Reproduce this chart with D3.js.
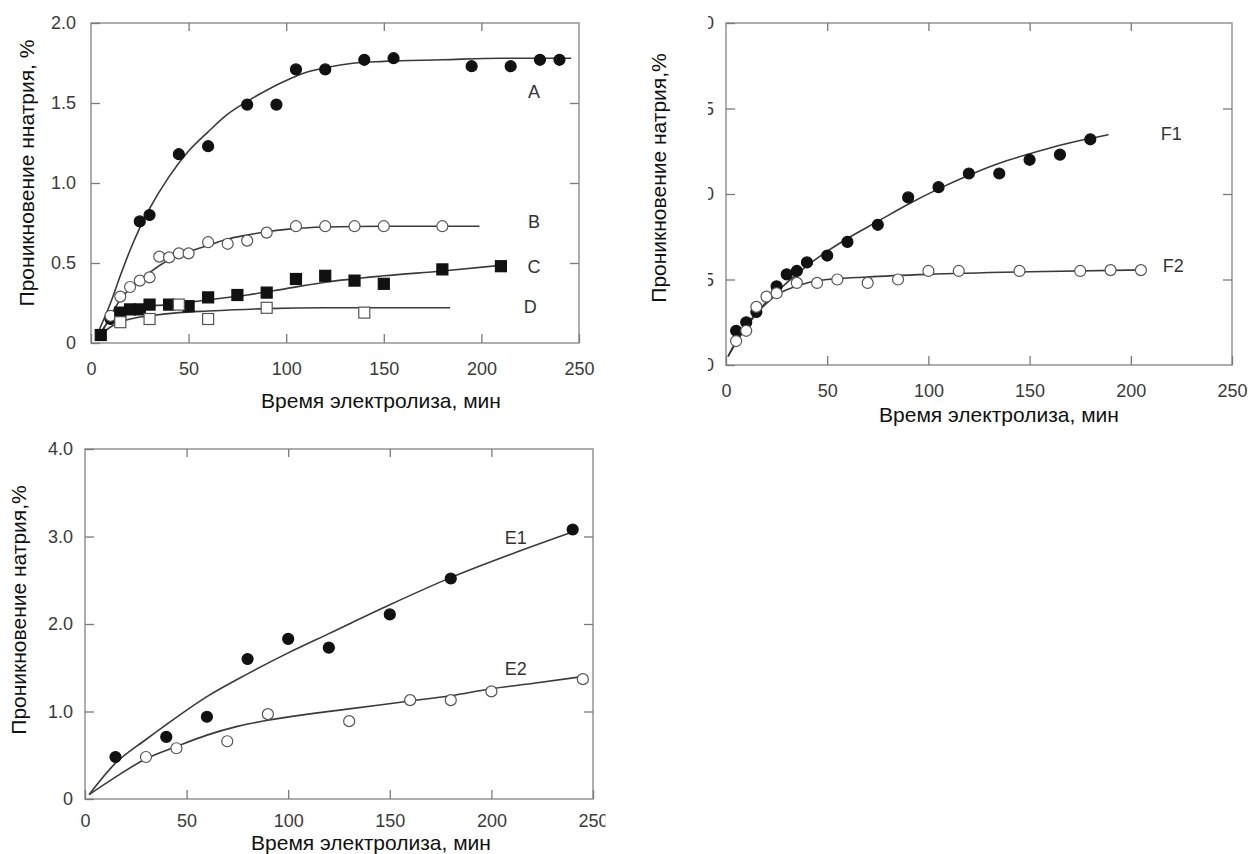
<!DOCTYPE html>
<html><head><meta charset="utf-8">
<script src="https://cdn.jsdelivr.net/npm/d3@7"></script>
<style>
html,body{margin:0;padding:0;background:#fff;}
svg{display:block;font-family:"Liberation Sans",Arial,sans-serif;}
</style></head>
<body><svg id="c" width="1258" height="854"></svg>
<script>
// ---------- data (time, min / sodium penetration, %) ----------
const xTicks = [0, 50, 100, 150, 200, 250];
const yTicks12 = [0, 0.5, 1.0, 1.5, 2.0];
const yTicksE = [0, 1, 2, 3, 4];

// Panel 1
const A_t = [10, 25, 30, 45, 60, 80, 95, 105, 120, 140, 155, 195, 215, 230, 240];
const A_v = [0.15, 0.76, 0.80, 1.18, 1.23, 1.49, 1.49, 1.71, 1.71, 1.77, 1.78, 1.73, 1.73, 1.77, 1.77];
const A_fit_t = [3, 10, 15, 20, 25, 30, 40, 50, 60, 70, 80, 90, 100, 110, 120, 135, 150, 180, 210, 246];
const A_fit_v = [0.05, 0.25, 0.42, 0.58, 0.72, 0.84, 1.04, 1.20, 1.32, 1.43, 1.51, 1.58, 1.64, 1.69, 1.72, 1.75, 1.76, 1.77, 1.78, 1.78];

const B_t = [10, 15, 20, 25, 30, 35, 40, 45, 50, 60, 70, 80, 90, 105, 120, 135, 150, 180];
const B_v = [0.17, 0.29, 0.35, 0.39, 0.41, 0.54, 0.535, 0.56, 0.56, 0.63, 0.62, 0.64, 0.69, 0.73, 0.73, 0.73, 0.73, 0.73];
const B_fit_t = [5, 10, 15, 20, 30, 40, 50, 60, 70, 80, 90, 100, 120, 150, 199];
const B_fit_v = [0.05, 0.17, 0.27, 0.34, 0.44, 0.52, 0.57, 0.61, 0.65, 0.675, 0.695, 0.71, 0.725, 0.73, 0.73];

const C_t = [5, 15, 20, 25, 30, 40, 50, 60, 75, 90, 105, 120, 135, 150, 180, 210];
const C_v = [0.05, 0.19, 0.21, 0.21, 0.24, 0.24, 0.23, 0.285, 0.30, 0.315, 0.40, 0.42, 0.39, 0.37, 0.46, 0.48];
const C_fit_t = [3, 10, 15, 25, 40, 60, 80, 100, 120, 150, 180, 210];
const C_fit_v = [0.03, 0.15, 0.20, 0.225, 0.24, 0.27, 0.30, 0.34, 0.38, 0.42, 0.45, 0.485];

const D_t = [15, 30, 45, 60, 90, 140];
const D_v = [0.13, 0.15, 0.24, 0.15, 0.22, 0.19];
const D_fit_t = [5, 10, 15, 20, 30, 45, 60, 90, 120, 184];
const D_fit_v = [0.05, 0.10, 0.13, 0.15, 0.17, 0.19, 0.20, 0.215, 0.22, 0.22];

// Panel 2
const F1_t = [5, 10, 15, 25, 30, 35, 40, 50, 60, 75, 90, 105, 120, 135, 150, 165, 180];
const F1_v = [0.20, 0.25, 0.31, 0.46, 0.53, 0.55, 0.60, 0.64, 0.72, 0.82, 0.98, 1.04, 1.12, 1.12, 1.20, 1.23, 1.32];
const F1_fit_t = [1, 5, 10, 20, 30, 40, 50, 60, 75, 90, 105, 120, 135, 150, 165, 180, 189];
const F1_fit_v = [0.05, 0.14, 0.23, 0.37, 0.48, 0.58, 0.665, 0.74, 0.84, 0.94, 1.03, 1.11, 1.18, 1.235, 1.285, 1.325, 1.347];

const F2_t = [5, 10, 15, 20, 25, 35, 45, 55, 70, 85, 100, 115, 145, 175, 190, 205];
const F2_v = [0.14, 0.20, 0.34, 0.40, 0.42, 0.48, 0.48, 0.50, 0.48, 0.50, 0.55, 0.55, 0.55, 0.55, 0.555, 0.555];
const F2_fit_t = [1, 5, 10, 15, 20, 25, 30, 40, 50, 70, 100, 150, 206];
const F2_fit_v = [0.05, 0.13, 0.22, 0.30, 0.36, 0.41, 0.44, 0.48, 0.50, 0.515, 0.53, 0.545, 0.556];

// Panel 3
const E1_t = [15, 40, 60, 80, 100, 120, 150, 180, 240];
const E1_v = [0.48, 0.71, 0.94, 1.60, 1.83, 1.73, 2.11, 2.52, 3.08];
const E1_fit_t = [2, 15, 30, 40, 60, 80, 100, 120, 150, 180, 210, 241];
const E1_fit_v = [0.05, 0.41, 0.68, 0.85, 1.17, 1.43, 1.67, 1.89, 2.22, 2.53, 2.80, 3.06];

const E2_t = [30, 45, 70, 90, 130, 160, 180, 200, 245];
const E2_v = [0.48, 0.58, 0.66, 0.97, 0.89, 1.13, 1.13, 1.23, 1.37];
const E2_fit_t = [2, 15, 30, 45, 60, 75, 90, 110, 130, 160, 180, 200, 220, 245];
const E2_fit_v = [0.05, 0.25, 0.46, 0.60, 0.73, 0.83, 0.90, 0.97, 1.03, 1.12, 1.18, 1.26, 1.32, 1.40];

const xTitle = "Время электролиза, мин";

// ---------- drawing ----------
const svg = d3.select("#c");
const zip = (t, v) => t.map((d, i) => [d, v[i]]);

const panels = [
  { box: [91, 579, 23, 343], ymax: 2, yTicks: yTicks12, ylabPad: 15, xlabPad: 19,
    yTitle: "Проникновение ннатрия, %", yTitlePos: [27, 173], xTitlePos: [381, 401],
    clipY: null, clipXRight: null,
    series: [
      { pts: zip(A_t, A_v), fit: zip(A_fit_t, A_fit_v), shape: "circle", filled: true, label: "A", lab: [227, 1.57] },
      { pts: zip(B_t, B_v), fit: zip(B_fit_t, B_fit_v), shape: "circle", filled: false, label: "B", lab: [227, 0.76] },
      { pts: zip(C_t, C_v), fit: zip(C_fit_t, C_fit_v), shape: "square", filled: true, label: "C", lab: [227, 0.48] },
      { pts: zip(D_t, D_v), fit: zip(D_fit_t, D_fit_v), shape: "square", filled: false, label: "D", lab: [225, 0.23] }
    ] },
  { box: [726, 1232, 23, 365], ymax: 2, yTicks: yTicks12, ylabPad: 12, xlabPad: 19,
    yTitle: "Проникновение натрия,%", yTitlePos: [659, 178], xTitlePos: [999, 415],
    clipY: 708, clipXRight: null,
    series: [
      { pts: zip(F1_t, F1_v), fit: zip(F1_fit_t, F1_fit_v), shape: "circle", filled: true, label: "F1", lab: [220, 1.35] },
      { pts: zip(F2_t, F2_v), fit: zip(F2_fit_t, F2_fit_v), shape: "circle", filled: false, label: "F2", lab: [221, 0.58] }
    ] },
  { box: [85, 593, 449, 799], ymax: 4, yTicks: yTicksE, ylabPad: 12, xlabPad: 15,
    yTitle: "Проникновение натрия,%", yTitlePos: [19, 610], xTitlePos: [371, 843],
    clipY: null, clipXRight: 605,
    series: [
      { pts: zip(E1_t, E1_v), fit: zip(E1_fit_t, E1_fit_v), shape: "circle", filled: true, label: "E1", lab: [212, 2.99] },
      { pts: zip(E2_t, E2_v), fit: zip(E2_fit_t, E2_fit_v), shape: "circle", filled: false, label: "E2", lab: [212, 1.49] }
    ] }
];

const fmtY = d => d === 0 ? "0" : d.toFixed(1);
const defs = svg.append("defs");

panels.forEach((p, pi) => {
  const [x0, x1, y0, y1] = p.box;
  const x = d3.scaleLinear().domain([0, 250]).range([x0, x1]);
  const y = d3.scaleLinear().domain([0, p.ymax]).range([y1, y0]);
  const g = svg.append("g");

  // frame
  g.append("rect").attr("x", x0).attr("y", y0).attr("width", x1 - x0).attr("height", y1 - y0)
    .attr("fill", "none").attr("stroke", "#8c8c8c").attr("stroke-width", 1.4);

  const styleAxis = sel => {
    sel.select(".domain").remove();
    sel.selectAll(".tick line").attr("stroke", "#7a7a7a").attr("stroke-width", 1.3);
    sel.selectAll(".tick text").attr("fill", "#3a3a3a").attr("font-size", 18)
      .attr("font-family", "'Liberation Sans',Arial,sans-serif");
  };

  const xl = g.append("g").attr("transform", `translate(0,${y1})`)
    .call(d3.axisBottom(x).tickValues(xTicks).tickSizeInner(-9).tickSizeOuter(0).tickPadding(p.xlabPad).tickFormat(d3.format("d")))
    .call(styleAxis);
  g.append("g").attr("transform", `translate(0,${y0})`)
    .call(d3.axisTop(x).tickValues(xTicks.slice(1, -1)).tickSizeInner(-8).tickSizeOuter(0).tickFormat(""))
    .call(styleAxis);
  const yl = g.append("g").attr("transform", `translate(${x0},0)`)
    .call(d3.axisLeft(y).tickValues(p.yTicks).tickSizeInner(-9).tickSizeOuter(0).tickPadding(p.ylabPad).tickFormat(fmtY))
    .call(styleAxis);
  g.append("g").attr("transform", `translate(${x1},0)`)
    .call(d3.axisRight(y).tickValues(p.yTicks.slice(1, -1)).tickSizeInner(-9).tickSizeOuter(0).tickFormat(""))
    .call(styleAxis);

  if (p.clipY !== null) {
    // the source figure's tick labels are cropped at its left edge
    const id = "clipLab" + pi;
    defs.append("clipPath").attr("id", id).append("rect")
      .attr("x", p.clipY - x0).attr("y", -1000).attr("width", 2000).attr("height", 3000);
    yl.selectAll(".tick text").attr("clip-path", `url(#${id})`);
  }
  if (p.clipXRight !== null) {
    // last x tick label cropped at the source figure's right edge
    const id = "clipX" + pi;
    defs.append("clipPath").attr("id", id).append("rect")
      .attr("x", -2000).attr("y", -1000).attr("width", 2000 + p.clipXRight - x(250)).attr("height", 3000);
    xl.selectAll(".tick").filter(d => d === 250).select("text").attr("clip-path", `url(#${id})`);
  }

  // titles
  g.append("text").attr("x", p.xTitlePos[0]).attr("y", p.xTitlePos[1]).attr("dy", "0.35em")
    .attr("text-anchor", "middle").attr("font-size", 21).attr("fill", "#111").text(xTitle);
  g.append("text").attr("transform", `translate(${p.yTitlePos[0]},${p.yTitlePos[1]}) rotate(-90)`)
    .attr("dy", "0.35em").attr("text-anchor", "middle").attr("font-size", 21).attr("fill", "#111").text(p.yTitle);

  const line = d3.line().x(d => x(d[0])).y(d => y(d[1])).curve(d3.curveMonotoneX);

  p.series.forEach(s => {
    g.append("path").attr("d", line(s.fit)).attr("fill", "none")
      .attr("stroke", "#3a3a3a").attr("stroke-width", 1.6);
  });
  p.series.forEach(s => {
    const fill = s.filled ? "#111" : "#fff";
    const stroke = s.filled ? "#111" : "#555";
    if (s.shape === "circle") {
      g.selectAll(null).data(s.pts).enter().append("circle")
        .attr("cx", d => x(d[0])).attr("cy", d => y(d[1])).attr("r", 5.5)
        .attr("fill", fill).attr("stroke", stroke).attr("stroke-width", 1.2);
    } else {
      g.selectAll(null).data(s.pts).enter().append("rect")
        .attr("x", d => x(d[0]) - 5.5).attr("y", d => y(d[1]) - 5.5).attr("width", 11).attr("height", 11)
        .attr("fill", fill).attr("stroke", stroke).attr("stroke-width", 1.2);
    }
    g.append("text").attr("x", x(s.lab[0])).attr("y", y(s.lab[1])).attr("dy", "0.35em")
      .attr("text-anchor", "middle").attr("font-size", 18).attr("fill", "#333").text(s.label);
  });
});
</script></body></html>
